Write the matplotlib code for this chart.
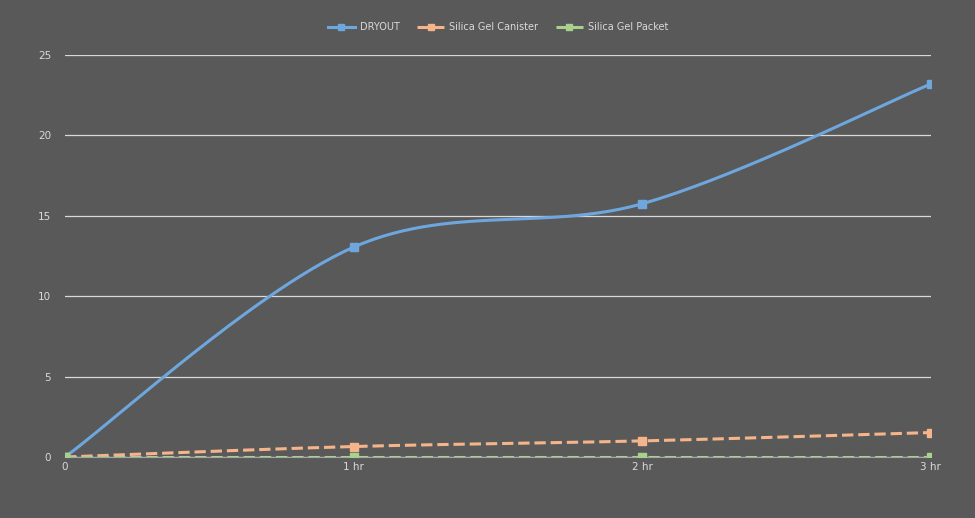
import numpy as np
import matplotlib
matplotlib.use("Agg")
import matplotlib.pyplot as plt

categories = ["0", "1 hr", "2 hr", "3 hr"]
dryout = [0, 13.05, 15.75, 23.2]
canister = [0, 0.65, 1.0, 1.52]
packet = [0, 0, 0, 0]


def smooth(xs, ys, n=60):
    # Catmull-Rom like Excel smoothed lines
    xs = np.asarray(xs, float)
    ys = np.asarray(ys, float)
    px = np.concatenate([[xs[0]], xs, [xs[-1]]])
    py = np.concatenate([[ys[0]], ys, [ys[-1]]])
    ox, oy = [], []
    for i in range(1, len(px) - 2):
        p0, p1, p2, p3 = [np.array([px[j], py[j]]) for j in (i - 1, i, i + 1, i + 2)]
        c1 = p1 + (p2 - p0) / 6
        c2 = p2 - (p3 - p1) / 6
        t = np.linspace(0, 1, n)[:, None]
        b = (1 - t) ** 3 * p1 + 3 * (1 - t) ** 2 * t * c1 + 3 * (1 - t) * t ** 2 * c2 + t ** 3 * p2
        ox.extend(b[:, 0])
        oy.extend(b[:, 1])
    return np.array(ox), np.array(oy)


bg = "#595959"
txt = "#d9d9d9"
fig = plt.figure(figsize=(9.75, 5.18), dpi=100, facecolor=bg)
ax = fig.add_axes([0.0667, 0.1178, 0.888, 0.776], facecolor=bg)

x = np.arange(len(categories))
series = [
    ("DRYOUT", dryout, "#6ea6de", "-"),
    ("Silica Gel Canister", canister, "#f6b48a", "--"),
    ("Silica Gel Packet", packet, "#a9d18e", "--"),
]
for name, vals, col, ls in series:
    sx, sy = smooth(x, vals)
    ax.plot(sx, sy, color=col, lw=2.2, ls=ls, zorder=3)
    ax.plot(x, vals, color=col, ls="none", marker="s", ms=5.5, zorder=4)
    ax.plot([], [], color=col, lw=2.2, ls=ls, marker="s", ms=4.5, label=name)

ax.set_xlim(0, 3)
ax.set_ylim(0, 25)
ax.set_yticks(range(0, 26, 5))
ax.set_xticks(x)
ax.set_xticklabels(categories)
ax.grid(axis="y", color="#d9d9d9", lw=0.9)
ax.set_axisbelow(True)
for s in ["top", "right", "left"]:
    ax.spines[s].set_visible(False)
ax.spines["bottom"].set_color("#a6a6a6")
ax.tick_params(colors=txt, labelsize=7.5, length=0)
ax.tick_params(axis="y", pad=10)
ax.legend(loc="lower center", bbox_to_anchor=(0.5, 1.035), ncol=3, frameon=False,
          fontsize=7, labelcolor=txt, handlelength=2.8, handletextpad=0.5,
          columnspacing=1.8)

fig.savefig("out.png", facecolor=bg)
